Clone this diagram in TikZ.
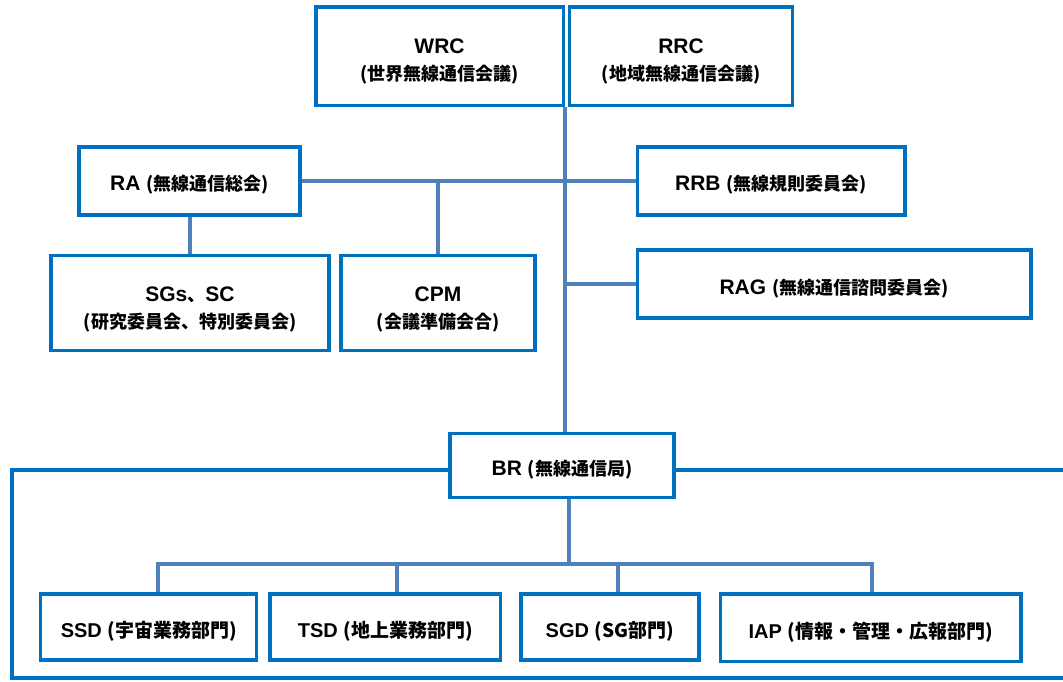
\documentclass[tikz,border=0pt]{standalone}
\usepackage{fontspec}
\setmainfont{Liberation Sans}
\newfontfamily\jp{Noto Sans CJK JP}
\usetikzlibrary{positioning}
\definecolor{boxblue}{HTML}{0070C0}
\definecolor{linkblue}{HTML}{4F81BD}
\newcommand{\jpnote}[1]{{\jp\bfseries\fontsize{18}{27}\selectfont #1}}
\newcommand{\jpunit}[1]{{\jp\bfseries\fontsize{19}{27}\selectfont #1}}
\newcommand{\sinktext}[2][4pt]{\raisebox{-#1}[\height][\depth]{#2}}

\begin{document}
\begin{tikzpicture}[
    x=1pt, y=-1pt,
    font=\bfseries\fontsize{21}{27}\selectfont,
    org/.style={
		rectangle,
		draw=boxblue,
		line width=3.5pt,
		text centered,
		inner sep=0pt,
		fill=white
	},
	unit/.style={
		org,
		minimum height=66pt,
		font=\bfseries\fontsize{20}{24}\selectfont
	},
	link/.style={
		draw=linkblue,
		line width=4pt
	},
	frame/.style={
		draw=boxblue,
		line width=3.5pt
	}
  ]
    \useasboundingbox (0,0) rectangle (1063,681);
    % We start by placing the blocks

  \node [org, minimum width=247.5pt, minimum height=98.5pt] (wrc) at (439.5,56)
 {\sinktext[6pt]{%
 \begin{tabular}{c}
  WRC\\
  \jpnote{(世界無線通信会議)}
 \end{tabular}}
 };

  \node [org, minimum width=223pt, minimum height=98.5pt] (rrc) at (681,56)
 {\sinktext[6pt]{%
 \begin{tabular}{c}
  RRC\\
  \jpnote{(地域無線通信会議)}
 \end{tabular}}
 };

  \node [org, minimum width=221pt, minimum height=68pt] (ra) at (189.5,181)
 {\sinktext{RA \jpnote{(無線通信総会)}}};

  \node [org, minimum width=267.5pt, minimum height=68pt] (rrb) at (771,181)
 {\sinktext{RRB \jpnote{(無線規則委員会)}}};

  \node [org, minimum width=278pt, minimum height=95pt] (sgs) at (190,303)
 {\sinktext[7pt]{%
 \begin{tabular}{c}
  SGs\jpnote{、}SC\\
  \jpnote{(研究委員会、特別委員会)}
 \end{tabular}}
 };

  \node [org, minimum width=194pt, minimum height=95pt] (cpm) at (438,303)
 {\sinktext[7pt]{%
 \begin{tabular}{c}
  CPM\\
  \jpnote{(会議準備会合)}
 \end{tabular}}
 };

  \node [org, minimum width=393.5pt, minimum height=68pt] (rag) at (834,284)
 {\sinktext[5pt]{RAG \jpnote{(無線通信諮問委員会)}}};

  \node [org, minimum width=224pt, minimum height=64pt] (br) at (562,465.5)
 {\sinktext{BR \jpnote{(無線通信局)}}};

  \node [unit, minimum width=216pt] (ssd) at (148.7,627) {\sinktext{SSD \jpunit{(宇宙業務部門)}}};
  \node [unit, minimum width=230.5pt] (tsd) at (385.3,627) {\sinktext{TSD \jpunit{(地上業務部門)}}};
  \node [unit, minimum width=178pt] (sgd) at (609.8,627) {\sinktext{SGD \jpunit{(SG部門)}}};
  \node [unit, minimum width=300.5pt, minimum height=67.5pt] (iap) at (870.7,627.8) {\sinktext{IAP \jpunit{(情報・管理・広報部門)}}};

 % lines
 \draw [link] (wrc.south east) -- (wrc.south east |- br.north);
 \draw [link] (ra.east) -- (rrb.west);
 \draw [link] (ra.south) -- (ra.south |- sgs.north);
 \draw [link] (cpm.north) -- (cpm.north |- ra.east);
 \draw [link] (rag.west) -- (rag.west -| wrc.south east);

 \coordinate (bus) at (569,564);
 \draw [link] ([xshift=7pt]br.south) -- (bus);
 \draw [link] ([xshift=9.3pt]ssd.north) |- ([xshift=1pt]iap.north |- bus) -- ([xshift=1pt]iap.north);
 \draw [link] ([xshift=11.7pt]tsd.north) -- ([xshift=11.7pt]tsd.north |- bus);
 \draw [link] ([xshift=8.2pt]sgd.north) -- ([xshift=8.2pt]sgd.north |- bus);

 % outer frame
 \draw [frame] ([yshift=-4.5pt]br.west) -| (12,678) -- (1063,678);
 \draw [frame] ([yshift=-4.5pt]br.east) -- (1063,470);

\end{tikzpicture}
\end{document}
